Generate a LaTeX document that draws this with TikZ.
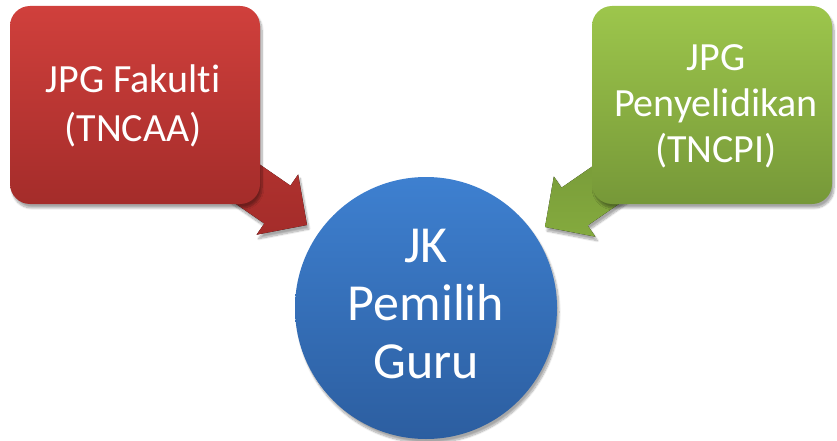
\documentclass[tikz,border=0pt]{standalone}
\usepackage{fontspec}
\setmainfont[Ligatures={NoCommon}]{Carlito}
\usetikzlibrary{shadows.blur}
\definecolor{redT}{RGB}{208,64,60}
\definecolor{redB}{RGB}{164,44,42}
\definecolor{redA}{RGB}{180,52,48}
\definecolor{grnT}{RGB}{157,198,76}
\definecolor{grnB}{RGB}{118,152,56}
\definecolor{grnA}{RGB}{132,170,62}
\definecolor{bluT}{RGB}{62,128,208}
\definecolor{bluB}{RGB}{44,94,160}
\tikzset{
  shd/.style={blur shadow={shadow xshift=2pt, shadow yshift=-4pt, shadow blur steps=10, shadow opacity=35}},
  box/.style={shd, rounded corners=20pt, minimum width=250pt, minimum height=198pt, inner sep=0pt},
  boxtxt/.style={text=white, align=center, font=\fontsize{40}{49}\selectfont},
  blockarrow/.style={shd},
}
\begin{document}
\begin{tikzpicture}[x=1pt,y=1pt]
\useasboundingbox (0,0) rectangle (837,440);
% arrows (behind boxes)
\begin{scope}[shift={(307,215)}, rotate=-34.6]
  \coordinate (rtip) at (0,0);
  \fill[blockarrow, top color=redA, bottom color=redB]
    (rtip) -- (-36,36.6) -- (-36,23) -- (-125,23) -- (-125,-23) -- (-36,-23) -- (-36,-36.6) -- cycle;
\end{scope}
\begin{scope}[shift={(545,213)}, rotate=214.6]
  \coordinate (gtip) at (0,0);
  \fill[blockarrow, top color=grnB, bottom color=grnA]
    (gtip) -- (-36,36.6) -- (-36,23) -- (-125,23) -- (-125,-23) -- (-36,-23) -- (-36,-36.6) -- cycle;
\end{scope}
% boxes
\node[box, top color=redT, bottom color=redB, minimum width=250pt] (fak) at (135,335) {};
\node[boxtxt] (fakt) at (133,334) {JPG Fakulti\\(TNCAA)};
\node[box, top color=grnT, bottom color=grnB, minimum width=240pt] (pen) at (712,335) {};
\node[boxtxt, font=\fontsize{40}{46}\selectfont] (pent) at (716,334) {JPG\\Penyelidikan\\(TNCPI)};
% circle
\node[circle, shd, top color=bluT, bottom color=bluB, minimum size=262pt, inner sep=0pt] (jk) at (426,132) {};
\node[text=white, align=center, font=\fontsize{52}{58}\selectfont] (jkt) at (426,136) {JK\\Pemilih\\Guru};
\end{tikzpicture}
\end{document}
